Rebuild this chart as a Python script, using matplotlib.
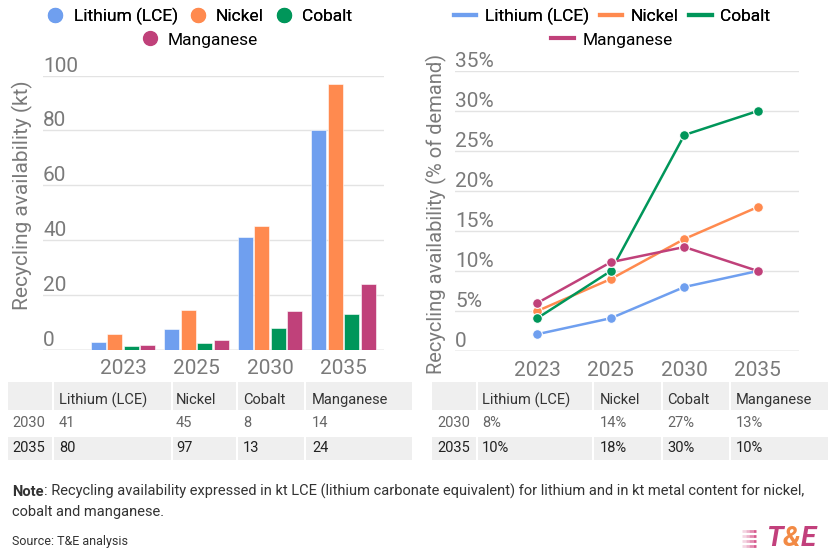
import numpy as np
import matplotlib.pyplot as plt
from matplotlib.lines import Line2D
from matplotlib.patches import Rectangle
import matplotlib.transforms as mtransforms

plt.rcParams['font.family'] = ['Roboto', 'DejaVu Sans']

years = ['2023', '2025', '2030', '2035']
metals = ['Lithium (LCE)', 'Nickel', 'Cobalt', 'Manganese']
colors = ['#6f9fef', '#ff8a4f', '#00965a', '#c0417a']

# recycling availability, kt
kt_lithium = [2.9, 7.5, 41, 80]
kt_nickel = [5.6, 14.5, 45, 97]
kt_cobalt = [1.3, 2.6, 8, 13]
kt_manganese = [1.6, 3.5, 14, 24]

# recycling availability, share of demand
pct_lithium = [0.021, 0.041, 0.08, 0.10]
pct_nickel = [0.05, 0.09, 0.14, 0.18]
pct_cobalt = [0.041, 0.10, 0.27, 0.30]
pct_manganese = [0.06, 0.111, 0.13, 0.10]

kt_ticks = [0, 20, 40, 60, 80, 100]
pct_ticks = [0, 0.05, 0.10, 0.15, 0.20, 0.25, 0.30, 0.35]

table_years = ['2030', '2035']

kt_series = [kt_lithium, kt_nickel, kt_cobalt, kt_manganese]
pct_series = [pct_lithium, pct_nickel, pct_cobalt, pct_manganese]

W, H = 830, 551
fig = plt.figure(figsize=(W / 100, H / 100), dpi=100)

def frac(x0, x1, ytop, ybot):
    return [x0 / W, 1 - ybot / H, (x1 - x0) / W, (ybot - ytop) / H]

grey = '#7a7a7a'
gridc = '#e3e3e3'

# ---------- left: bars ----------
ax1 = fig.add_axes(frac(43, 384, 75.7, 349.7))
x = np.arange(len(years))
bw, step = 0.204, 0.224
for i, (vals, c) in enumerate(zip(kt_series, colors)):
    ax1.bar(x + (i - 1.5) * step, vals, width=bw, color=c, edgecolor='white',
            linewidth=0.4, zorder=3)
ax1.set_ylim(0, 100)
ax1.set_xlim(-1.09, 3.55)

# ---------- right: lines ----------
ax2 = fig.add_axes(frac(455, 799, 71, 351))
for vals, c in zip(pct_series, colors):
    ax2.plot(x, vals, color=c, lw=1.8, marker='o', ms=7, mec='white', mew=0.8,
             zorder=3, clip_on=False)
ax2.set_ylim(0, 0.35)
ax2.set_xlim(-1.12, 3.56)

def style(ax, ticks, fmt):
    for s in ax.spines.values():
        s.set_visible(False)
    ax.set_yticks(ticks)
    ax.yaxis.grid(True, color=gridc, lw=1)
    ax.set_axisbelow(True)
    ax.tick_params(axis='y', length=0, labelleft=False)
    ax.tick_params(axis='x', length=0, labelsize=15, labelcolor=grey, pad=7)
    ax.set_xticks(x)
    ax.set_xticklabels(years)
    tr = mtransforms.blended_transform_factory(ax.transAxes, ax.transData)
    for t in ticks:
        ax.text(0.0, t, fmt(t), transform=tr, ha='left', va='bottom',
                fontsize=15, color=grey)
    ax.axhline(0, color='#d0d0d0', lw=1, zorder=2)

style(ax1, kt_ticks, lambda v: f'{v:g}')
style(ax2, pct_ticks, lambda v: '0' if v == 0 else f'{v * 100:.0f}%')

fig.text(22 / W, 1 - 195 / H, 'Recycling availability (kt)', rotation=90,
         ha='center', va='center', fontsize=15, color=grey)
fig.text(436 / W, 1 - 214 / H, 'Recycling availability (% of demand)', rotation=90,
         ha='center', va='center', fontsize=14.5, color=grey)

# ---------- legends ----------
def dot(c):
    return Line2D([], [], marker='o', ls='', color=c, ms=10)

def dash(c):
    return Line2D([], [], color=c, lw=3)

for ax, mk, cx in [(ax1, dot, 199), (ax2, dash, 612)]:
    hl = 1.1 if mk is dot else 1.3
    h1 = [mk(c) for c in colors[:3]]
    leg1 = fig.legend(h1, metals[:3], loc='center', ncol=3, frameon=False,
                      bbox_to_anchor=(cx / W, 1 - 16 / H), fontsize=12.5,
                      handlelength=hl, handletextpad=0.5,
                      columnspacing=0.6, borderaxespad=0)
    leg2 = fig.legend([mk(colors[3])], metals[3:], loc='center', frameon=False,
                      bbox_to_anchor=(cx / W, 1 - 40 / H), fontsize=12.5,
                      handlelength=hl, handletextpad=0.5,
                      borderaxespad=0)
    fig.add_artist(leg1)

# ---------- tables + footer on a pixel overlay ----------
ov = fig.add_axes([0, 0, 1, 1], zorder=-1)
ov.set_xlim(0, W)
ov.set_ylim(H, 0)
ov.axis('off')

def table(x0, x1, seps, tx, rows):
    shade = '#efefef'
    for (yt, yb) in [(382, 410), (437, 460)]:
        ov.add_patch(Rectangle((x0, yt), x1 - x0, yb - yt, color=shade, lw=0))
    for s in seps:
        ov.plot([s, s], [382, 460], color='white', lw=1.5)
    ys = [400, 423, 448]
    tcol = ['#333333', '#666666', '#222222']
    for r, (row, yy) in enumerate(zip(rows, ys)):
        for txt, xx in zip(row, tx):
            ov.text(xx, yy, txt, ha='left', va='center', fontsize=10.5,
                    color=tcol[r])

left_rows = [[''] + metals]
right_rows = [[''] + metals]
for j, yr in enumerate(table_years):
    k = years.index(yr)
    left_rows.append([yr] + [f'{s[k]:.0f}' for s in kt_series])
    right_rows.append([yr] + [f'{s[k] * 100:.0f}%' for s in pct_series])

table(8, 412, [53, 172, 237, 305], [12, 59, 176, 243, 312], left_rows)
table(432, 828, [477, 593, 662, 730], [437, 482, 600, 667, 736], right_rows)

foot = ['Liberation Sans Narrow', 'Roboto', 'DejaVu Sans']
t1 = ov.text(12, 492, 'Note', ha='left', va='center', fontsize=10.5,
             fontweight='bold', color='#333333', family=foot)
ov.annotate(': Recycling availability expressed in kt LCE (lithium carbonate equivalent) '
            'for lithium and in kt metal content for nickel,',
            xy=(1, 0), xycoords=t1, va='bottom', ha='left', fontsize=10.5,
            color='#333333', family=foot)
ov.text(12, 512, 'cobalt and manganese.', ha='left', va='center', fontsize=10.5,
        color='#333333', family=foot)
ov.text(12, 541, 'Source: T&E analysis', ha='left', va='center', fontsize=9,
        color='#333333', family=foot)

# logo
for k, yy in enumerate([531, 536, 541, 546]):
    for seg, a in zip(range(4), [0.25, 0.45, 0.7, 1.0]):
        ov.plot([742 + seg * 3.5, 745.5 + seg * 3.5], [yy, yy], color='#d65a8e',
                alpha=a, lw=2, solid_capstyle='butt')
lt = ov.text(766, 538, 'T', ha='left', va='center', fontsize=20,
             fontweight='bold', fontstyle='italic', color='#c2407c')
la = ov.annotate('&', xy=(1, 0), xycoords=lt, va='bottom', fontsize=20,
                 fontweight='bold', fontstyle='italic', color='#f28a45')
ov.annotate('E', xy=(1, 0), xycoords=la, va='bottom', fontsize=20,
            fontweight='bold', fontstyle='italic', color='#c2407c')

fig.savefig('out.png', dpi=100)
